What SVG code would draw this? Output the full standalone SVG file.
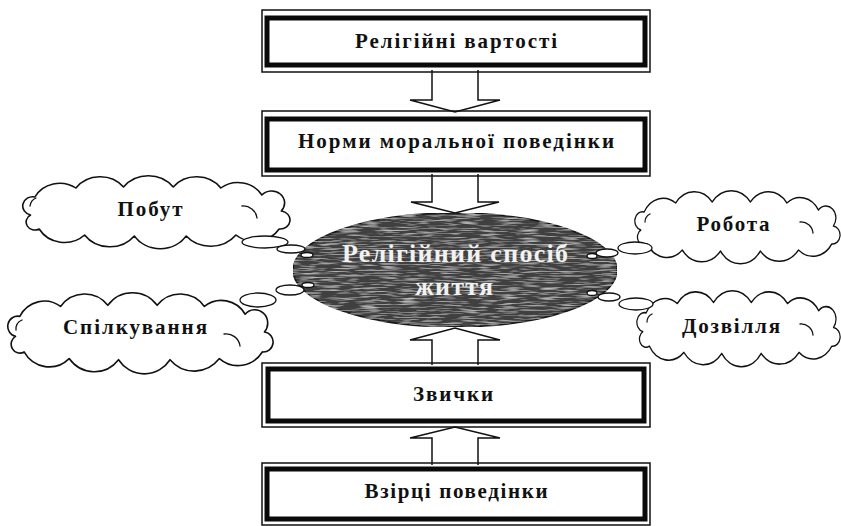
<svg xmlns="http://www.w3.org/2000/svg" width="841" height="526" viewBox="0 0 841 526">
<defs>
<style>
.bg{fill:#fff}
.outer{fill:none;stroke:#111;stroke-width:1.5}
.inner{fill:#fff;stroke:#0a0a0a;stroke-width:5}
.btxt{font-family:"Liberation Serif","Times New Roman",serif;font-weight:bold;font-size:21px;fill:#111;text-anchor:middle}
.ctxt{font-family:"Liberation Serif","Times New Roman",serif;font-weight:bold;font-size:21px;fill:#111;text-anchor:middle}
.etxt{font-family:"Liberation Serif","Times New Roman",serif;font-weight:bold;font-size:26px;fill:#f2f2f2;text-anchor:middle}
.cloud{fill:#fff;stroke:#111;stroke-width:1.5;stroke-linejoin:round}
.curl{fill:none;stroke:#111;stroke-width:1.3;stroke-linecap:round}
.arrow{fill:#fff;stroke:#111;stroke-width:1.5;stroke-linejoin:miter}
.bub{fill:#fff;stroke:#111;stroke-width:1.3}
</style>
<path id="cloudShape" d="M14 40 A1 1 0 0 1 18 22 A26 26 0 0 1 56 13 A28 28 0 0 1 100 12 A29 29 0 0 1 146 12 A28 28 0 0 1 190 13 A26 26 0 0 1 228 20 A1 1 0 0 1 246 36 A1 1 0 0 1 244 54 A27 27 0 0 1 204 60 A30 30 0 0 1 158 61 A29 29 0 0 1 110 61 A29 29 0 0 1 64 60 A27 27 0 0 1 22 54 A1 1 0 0 1 14 40 Z"/>
<filter id="grain" x="0" y="0" width="1" height="1">
<feTurbulence type="fractalNoise" baseFrequency="0.05 0.7" numOctaves="2" seed="4" result="n"/>
<feColorMatrix in="n" type="matrix" values="0 0 0 0 0.6  0 0 0 0 0.6  0 0 0 0 0.6  0 0 0 2.2 -1.05" result="g"/>
<feComposite in="g" in2="SourceGraphic" operator="in" result="gi"/>
<feMerge><feMergeNode in="SourceGraphic"/><feMergeNode in="gi"/></feMerge>
</filter>
</defs>
<rect class="bg" x="0" y="0" width="841" height="526"/>

<g id="connectors">
<path class="arrow" d="M432 70 V100 H410 L455 112 L500 100 H478 V70"/>
<path class="arrow" d="M432 174 V202 H411 L455 213 L499 202 H478 V174"/>
<path class="arrow" d="M432 365 V340 H410 L455 328 L500 340 H478 V365"/>
<path class="arrow" d="M432 465 V438 H410 L455 427 L500 438 H478 V465"/>
</g>

<g id="box-values">
<rect class="outer" x="262" y="10" width="388" height="62"/>
<rect class="inner" x="267" y="18" width="378" height="47"/>
<text class="btxt" x="456" y="48" textLength="202" lengthAdjust="spacing">Релігійні вартості</text>
</g>

<g id="box-norms">
<rect class="outer" x="262" y="111" width="388" height="65"/>
<rect class="inner" x="267" y="119" width="378" height="51"/>
<text class="btxt" x="456" y="148" textLength="316" lengthAdjust="spacing">Норми моральної поведінки</text>
</g>

<g id="box-habits">
<rect class="outer" x="262" y="363" width="388" height="64"/>
<rect class="inner" x="268" y="369" width="376" height="52"/>
<text class="btxt" x="453" y="401" textLength="80" lengthAdjust="spacing">Звички</text>
</g>

<g id="box-patterns">
<rect class="outer" x="262" y="463" width="388" height="62"/>
<rect class="inner" x="267" y="469" width="378" height="50"/>
<text class="btxt" x="456" y="498" textLength="183" lengthAdjust="spacing">Взірці поведінки</text>
</g>

<g id="cloud-pobut">
<use href="#cloudShape" class="cloud" transform="translate(15.4 175) scale(1.081 1)" vector-effect="non-scaling-stroke"/>
<path class="curl" d="M242 206 A14 14 0 0 1 257 218"/>
<path class="curl" d="M36 198 A10 10 0 0 0 30 206"/>
<text class="ctxt" x="150" y="216" textLength="65" lengthAdjust="spacing">Побут</text>
</g>

<g id="cloud-spilkuvannya">
<use href="#cloudShape" class="cloud" transform="translate(0.5 292) scale(1.073 1.11)" vector-effect="non-scaling-stroke"/>
<path class="curl" d="M224 334 A14 14 0 0 1 240 346"/>
<path class="curl" d="M22 320 A10 10 0 0 0 16 330"/>
<text class="ctxt" x="135" y="334" textLength="144" lengthAdjust="spacing">Спілкування</text>
</g>

<g id="cloud-robota">
<use href="#cloudShape" class="cloud" transform="translate(629.2 190) scale(0.83 1)" vector-effect="non-scaling-stroke"/>
<path class="curl" d="M800 222 A12 12 0 0 1 813 233"/>
<path class="curl" d="M650 214 A9 9 0 0 0 645 222"/>
<text class="ctxt" x="733" y="231" textLength="73" lengthAdjust="spacing">Робота</text>
</g>

<g id="cloud-dozvillya">
<use href="#cloudShape" class="cloud" transform="translate(631.3 290) scale(0.822 1.04)" vector-effect="non-scaling-stroke"/>
<path class="curl" d="M800 324 A12 12 0 0 1 813 335"/>
<path class="curl" d="M652 314 A9 9 0 0 0 647 322"/>
<text class="ctxt" x="731" y="333" textLength="98" lengthAdjust="spacing">Дозвілля</text>
</g>

<g id="ellipse-way">
<ellipse cx="455" cy="270" rx="162" ry="57" fill="#3f3f3f" stroke="#151515" stroke-width="1.5" filter="url(#grain)"/>
<text class="etxt" x="455" y="262" textLength="226" lengthAdjust="spacing">Релігійний спосіб</text>
<text class="etxt" x="454" y="295" textLength="78" lengthAdjust="spacing">життя</text>
</g>

<g id="bubbles">
<ellipse class="bub" cx="265" cy="242" rx="23" ry="6"/>
<ellipse class="bub" cx="291" cy="249" rx="14" ry="4"/>
<ellipse class="bub" cx="307" cy="255" rx="6" ry="2.5"/>
<ellipse class="bub" cx="258" cy="300" rx="18" ry="7"/>
<ellipse class="bub" cx="290" cy="290" rx="14" ry="5"/>
<ellipse class="bub" cx="308" cy="285" rx="6" ry="2.5"/>
<ellipse class="bub" cx="592" cy="256" rx="5" ry="2.5"/>
<ellipse class="bub" cx="607" cy="253" rx="11" ry="4"/>
<ellipse class="bub" cx="635" cy="248" rx="17" ry="6"/>
<ellipse class="bub" cx="592" cy="293" rx="5" ry="2.5"/>
<ellipse class="bub" cx="609" cy="297" rx="11" ry="4"/>
<ellipse class="bub" cx="636" cy="304" rx="17" ry="6"/>
</g>
</svg>
